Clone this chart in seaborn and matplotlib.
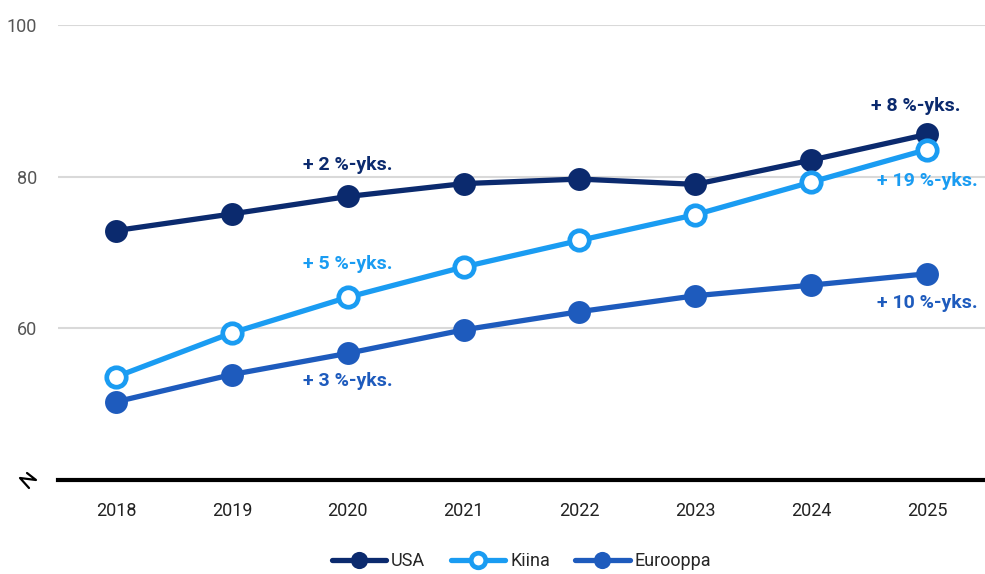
import matplotlib
matplotlib.use("Agg")
import matplotlib.pyplot as plt
import seaborn as sns
from matplotlib.lines import Line2D

years = [2018, 2019, 2020, 2021, 2022, 2023, 2024, 2025]
usa = [72.9, 75.1, 77.4, 79.1, 79.7, 79.0, 82.2, 85.6]
kiina = [53.6, 59.4, 64.1, 68.1, 71.6, 75.0, 79.3, 83.6]
eurooppa = [50.3, 53.9, 56.7, 59.8, 62.2, 64.3, 65.7, 67.2]

col_usa = "#0b2a6e"
col_kiina = "#1a9cf2"
col_eur = "#1e5bbd"

sns.set_theme(style="white")
plt.rcParams["font.family"] = ["Roboto", "DejaVu Sans"]

fig = plt.figure(figsize=(9.85, 5.74), dpi=100)
ax = fig.add_axes([0.059, 0.164, 0.941, 0.792])

lw = 3.8
ms = 16.5
sns.lineplot(x=years, y=usa, ax=ax, color=col_usa, lw=lw, marker="o", markersize=ms,
             markeredgewidth=0, label="USA")
sns.lineplot(x=years, y=kiina, ax=ax, color=col_kiina, lw=lw, marker="o", markersize=ms - 2.5,
             markerfacecolor="white", markeredgecolor=col_kiina, markeredgewidth=3.4, label="Kiina")
sns.lineplot(x=years, y=eurooppa, ax=ax, color=col_eur, lw=lw, marker="o", markersize=ms,
             markeredgewidth=0, label="Eurooppa")

# annotations
ann = [
    (2020, 81.6, "+ 2 %-yks.", col_usa),
    (2020, 68.5, "+ 5 %-yks.", col_kiina),
    (2020, 53.0, "+ 3 %-yks.", col_eur),
    (2024.9, 89.3, "+ 8 %-yks.", col_usa),
    (2025.0, 79.5, "+ 19 %-yks.", col_kiina),
    (2025.0, 63.3, "+ 10 %-yks.", col_eur),
]
for x, y, t, c in ann:
    ax.text(x, y, t, color=c, fontsize=14, fontweight="bold", ha="center", va="center")

ax.set_xlim(2017.5, 2025.5)
ax.set_ylim(40, 100)
ax.set_yticks([60, 80, 100])
ax.set_xticks(years)
ax.set_xticklabels([str(y) for y in years])
ax.yaxis.grid(True, color="#d9d9d9", lw=1.5)
ax.set_axisbelow(True)
for s in ["top", "right", "left"]:
    ax.spines[s].set_visible(False)
ax.spines["bottom"].set_color("black")
ax.spines["bottom"].set_linewidth(3)
ax.tick_params(axis="y", length=0, labelsize=13, labelcolor="#555555", pad=15)
ax.tick_params(axis="x", length=0, labelsize=13, labelcolor="#222222", pad=16)

# broken axis symbol
fig.add_artist(Line2D([27 / 985, 36 / 985, 20 / 985, 29 / 985],
                      [1 - 473 / 574, 1 - 480 / 574, 1 - 478 / 574, 1 - 488 / 574],
                      transform=fig.transFigure, color="black", lw=1.6))

ax.legend(loc="lower center", bbox_to_anchor=(0.5, -0.235), ncol=3, frameon=False,
          fontsize=13, handlelength=3.0, columnspacing=1.4, handletextpad=0.3,
          markerscale=0.75)

fig.savefig("out.png", dpi=100)
